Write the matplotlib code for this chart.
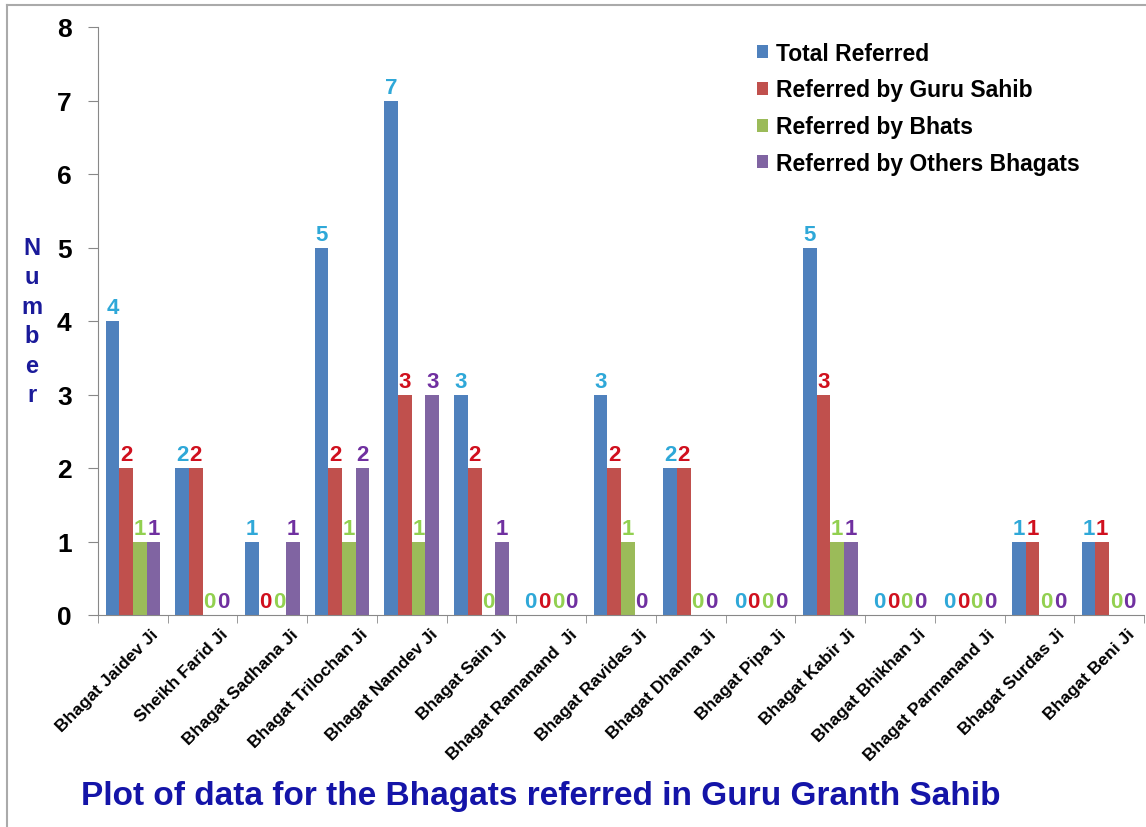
import numpy as np
import matplotlib
matplotlib.use("Agg")
import matplotlib.pyplot as plt
import matplotlib.transforms as mtransforms
from matplotlib.lines import Line2D

bhagats = ["Bhagat Jaidev Ji", "Sheikh Farid Ji", "Bhagat Sadhana Ji", "Bhagat Trilochan Ji",
           "Bhagat Namdev Ji", "Bhagat Sain Ji", "Bhagat Ramanand  Ji", "Bhagat Ravidas Ji",
           "Bhagat Dhanna Ji", "Bhagat Pipa Ji", "Bhagat Kabir Ji", "Bhagat Bhikhan Ji",
           "Bhagat Parmanand Ji", "Bhagat Surdas Ji", "Bhagat Beni Ji"]
total_referred = [4, 2, 1, 5, 7, 3, 0, 3, 2, 0, 5, 0, 0, 1, 1]
by_guru_sahib = [2, 2, 0, 2, 3, 2, 0, 2, 2, 0, 3, 0, 0, 1, 1]
by_bhats = [1, 0, 0, 1, 1, 0, 0, 1, 0, 0, 1, 0, 0, 0, 0]
by_other_bhagats = [1, 0, 1, 2, 3, 1, 0, 0, 0, 0, 1, 0, 0, 0, 0]

series_names = ["Total Referred", "Referred by Guru Sahib", "Referred by Bhats",
                "Referred by Others Bhagats"]
bar_colors = ["#4F81BD", "#C0504D", "#9BBB59", "#8064A2"]
label_colors = ["#2FA8D8", "#D0101E", "#92D050", "#7030A0"]

plt.rcParams['font.family'] = ['Liberation Sans', 'DejaVu Sans']

fig = plt.figure(figsize=(11.46, 8.28), dpi=100)
ax = fig.add_axes([98/1146, 1-616/828, (1144-98)/1146, (616-28)/828])

x = np.arange(len(bhagats))
w = 0.196
data = [total_referred, by_guru_sahib, by_bhats, by_other_bhagats]
for i, vals in enumerate(data):
    pos = x + (i - 1.5) * w
    ax.bar(pos, vals, w, color=bar_colors[i], label=series_names[i])
    for p, v in zip(pos, vals):
        ax.text(p, v + 0.04, str(v), ha='center', va='bottom', fontsize=16,
                fontweight='bold', color=label_colors[i])

ax.set_xlim(-0.5, len(bhagats) - 0.5)
ax.set_ylim(0, 8)
ax.set_yticks(range(9))
ax.tick_params(axis='y', labelsize=19, length=7, color='#888888', pad=12)
for t in ax.get_yticklabels():
    t.set_fontweight('bold')

ax.set_xticks(x)
ax.set_xticklabels(bhagats, rotation=45, ha='right', va='top', rotation_mode='anchor',
                   fontsize=12.5, fontweight='bold')
ax.tick_params(axis='x', length=0, pad=8)
shift = mtransforms.ScaledTranslation(18/100, 0, fig.dpi_scale_trans)
for t in ax.get_xticklabels():
    t.set_transform(t.get_transform() + shift)
ax.set_xticks(np.arange(-0.5, len(bhagats)), minor=True)
ax.tick_params(axis='x', which='minor', length=6, color='#888888')

for s in ['top', 'right']:
    ax.spines[s].set_visible(False)
for s in ['left', 'bottom']:
    ax.spines[s].set_color('#888888')

ax.legend(loc='upper left', bbox_to_anchor=(0.61, 1.01), frameon=False,
          prop={'size': 16.5, 'weight': 'bold'}, handlelength=0.5, handleheight=0.5,
          handletextpad=0.35, labelspacing=0.6)

fig.text(32/1146, 1-322/828, "\n".join("Number"), ha='center', va='center',
         fontsize=17, fontweight='bold', color='#1A1A9A', linespacing=1.36)

fig.text(541/1146, 1-797/828, "Plot of data for the Bhagats referred in Guru Granth Sahib",
         ha='center', va='center', fontsize=24, fontweight='bold', color='#1414A8')

fig.add_artist(Line2D([7/1146, 7/1146], [0, 1-6/828], color='#AAAAAA', lw=1.5))
fig.add_artist(Line2D([7/1146, 1], [1-6/828, 1-6/828], color='#AAAAAA', lw=1.5))

fig.savefig("out.png", dpi=100)
